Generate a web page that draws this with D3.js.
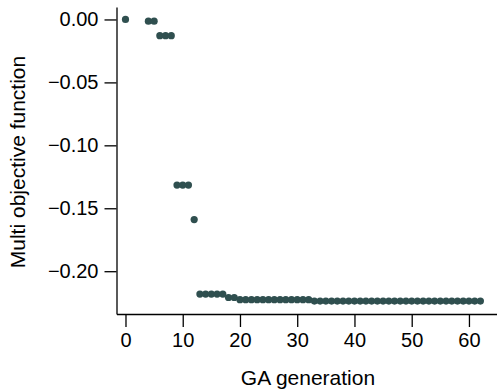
<!DOCTYPE html>
<html lang="en">
<head>
    <meta charset="UTF-8">
    <script src="https://cdn.jsdelivr.net/npm/d3@7"></script>
    <style>
        body { margin: 0; background: #fff; }
        text { font-family: "Liberation Sans", Arial, sans-serif; fill: #000; }
    </style>
</head>
<body>
    <div id="chart"></div>
    <script>
        // GA generation index and multi objective value
        var generations = [0, 4, 5, 6, 7, 8, 9, 10, 11, 12, 13, 14, 15, 16, 17, 18, 19,
            20, 21, 22, 23, 24, 25, 26, 27, 28, 29, 30, 31, 32,
            33, 34, 35, 36, 37, 38, 39, 40, 41, 42, 43, 44, 45, 46, 47,
            48, 49, 50, 51, 52, 53, 54, 55, 56, 57, 58, 59, 60, 61, 62];
        var objective = [0, -0.0014, -0.0014, -0.0129, -0.0129, -0.0129,
            -0.1316, -0.1316, -0.1316, -0.159,
            -0.2182, -0.2182, -0.2182, -0.2182, -0.2182, -0.2209, -0.2209,
            -0.2226, -0.2226, -0.2226, -0.2226, -0.2226, -0.2226, -0.2226,
            -0.2226, -0.2226, -0.2226, -0.2226, -0.2226, -0.2226,
            -0.2237, -0.2237, -0.2237, -0.2237, -0.2237, -0.2237, -0.2237, -0.2237,
            -0.2237, -0.2237, -0.2237, -0.2237, -0.2237, -0.2237, -0.2237,
            -0.2237, -0.2237, -0.2237, -0.2237, -0.2237, -0.2237, -0.2237, -0.2237,
            -0.2237, -0.2237, -0.2237, -0.2237, -0.2237, -0.2237, -0.2237];
        var xTicks = [0, 10, 20, 30, 40, 50, 60];
        var yTicks = [0, -0.05, -0.10, -0.15, -0.20];

        var width = 497, height = 392;
        var svg = d3.select("#chart").append("svg")
            .attr("width", width)
            .attr("height", height);

        var x = d3.scaleLinear().domain([-1.57, 64.9]).range([116.5, 497]);
        var y = d3.scaleLinear().domain([-0.234, 0.0099]).range([314, 7]);

        var fmt = v => (v < 0 ? "\u2212" : "") + Math.abs(v).toFixed(2);

        // x axis
        var xAxis = svg.append("g")
            .attr("transform", "translate(0,314)")
            .call(d3.axisBottom(x).tickValues(xTicks).tickSize(13).tickSizeOuter(0).tickPadding(6));
        xAxis.selectAll("text").style("font-size", "20px");

        // y axis
        var yAxis = svg.append("g")
            .attr("transform", "translate(116.5,0)")
            .call(d3.axisLeft(y).tickValues(yTicks).tickFormat(fmt).tickSize(12).tickSizeOuter(0).tickPadding(6));
        yAxis.selectAll("text").style("font-size", "20px");
        svg.selectAll(".domain, .tick line").attr("stroke", "#000").attr("stroke-width", 1.3);

        // points
        svg.append("g").selectAll("circle")
            .data(generations)
            .enter()
            .append("circle")
            .attr("cx", d => x(d))
            .attr("cy", (d, i) => y(objective[i]))
            .attr("r", 3.6)
            .attr("fill", "#2f4f4f");

        // axis titles
        svg.append("text")
            .attr("x", 308)
            .attr("y", 385)
            .attr("text-anchor", "middle")
            .style("font-size", "21px")
            .text("GA generation");
        svg.append("text")
            .attr("transform", "translate(25,162) rotate(-90)")
            .attr("text-anchor", "middle")
            .style("font-size", "21px")
            .text("Multi objective function");
    </script>
</body>
</html>
